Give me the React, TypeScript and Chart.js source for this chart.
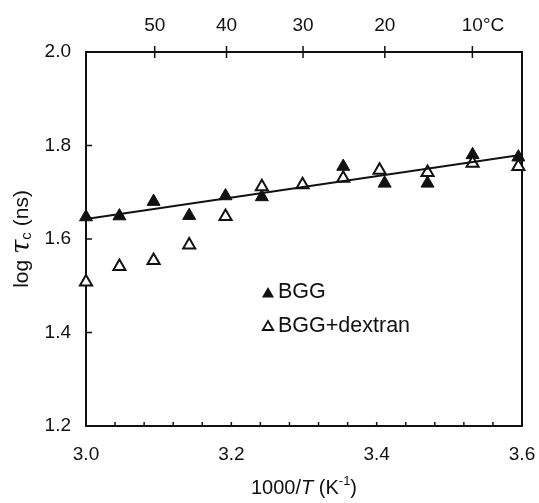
import React, { useEffect, useRef } from "react";
import { Chart, registerables } from "chart.js";

Chart.register(...registerables);

// ---- data ----
const bggX = [3.0, 3.046, 3.093, 3.142, 3.192, 3.242, 3.354, 3.411, 3.47, 3.532, 3.595];
const bggY = [1.647, 1.649, 1.68, 1.65, 1.692, 1.69, 1.755, 1.719, 1.719, 1.78, 1.775];
const dexX = [3.0, 3.046, 3.093, 3.142, 3.192, 3.242, 3.298, 3.354, 3.404, 3.47, 3.532, 3.595];
const dexY = [1.508, 1.541, 1.554, 1.587, 1.648, 1.712, 1.716, 1.73, 1.747, 1.742, 1.762, 1.755];
const fitX = [3.0, 3.6];
const fitY = [1.643, 1.78];

const xTicks = [3.0, 3.2, 3.4, 3.6];
const yTicks = [1.2, 1.4, 1.6, 1.8, 2.0];
const xMinorStep = 0.04;
const topTempsC = [50, 40, 30, 20, 10];
const topTempLabels = ["50", "40", "30", "20", "10"];
const topUnit = "°C";
const legendLabels = ["BGG", "BGG+dextran"];

const FONT = "'Liberation Sans', Arial, sans-serif";
const INK = "#111";

function tri(ctx: CanvasRenderingContext2D, x: number, y: number, r: number, filled: boolean, lw: number) {
  ctx.beginPath();
  ctx.moveTo(x, y - r);
  ctx.lineTo(x + r * 0.866, y + r * 0.5);
  ctx.lineTo(x - r * 0.866, y + r * 0.5);
  ctx.closePath();
  if (filled) {
    ctx.fillStyle = INK;
    ctx.fill();
  } else {
    ctx.fillStyle = "#fff";
    ctx.fill();
    ctx.lineWidth = lw;
    ctx.strokeStyle = INK;
    ctx.stroke();
  }
}

function drawSegments(
  ctx: CanvasRenderingContext2D,
  segs: { t: string; f: string; dy?: number }[],
  cx: number,
  cy: number
) {
  let total = 0;
  for (const s of segs) {
    ctx.font = s.f;
    total += ctx.measureText(s.t).width;
  }
  let x = cx - total / 2;
  ctx.textAlign = "left";
  ctx.textBaseline = "middle";
  for (const s of segs) {
    ctx.font = s.f;
    ctx.fillText(s.t, x, cy + (s.dy || 0));
    x += ctx.measureText(s.t).width;
  }
}

const framePlugin = {
  id: "frame",
  beforeDatasetsDraw(chart: any) {
    const { ctx, chartArea: a, scales } = chart;
    const xs = scales.x;
    const ys = scales.y;
    ctx.save();
    ctx.strokeStyle = INK;
    ctx.lineWidth = 2;
    ctx.strokeRect(a.left, a.top, a.right - a.left, a.bottom - a.top);

    ctx.lineWidth = 1.5;
    // y inward ticks
    for (const v of yTicks) {
      const py = ys.getPixelForValue(v);
      ctx.beginPath();
      ctx.moveTo(a.left, py);
      ctx.lineTo(a.left + 6, py);
      ctx.stroke();
    }
    // x minor inward ticks
    const n = Math.round((xs.max - xs.min) / xMinorStep);
    for (let i = 1; i < n; i++) {
      const px = xs.getPixelForValue(xs.min + i * xMinorStep);
      ctx.beginPath();
      ctx.moveTo(px, a.bottom);
      ctx.lineTo(px, a.bottom - 4);
      ctx.stroke();
    }
    // top temperature axis
    ctx.fillStyle = INK;
    ctx.font = `19px ${FONT}`;
    ctx.textBaseline = "middle";
    topTempsC.forEach((t, i) => {
      const px = xs.getPixelForValue(1000 / (t + 273.15));
      ctx.beginPath();
      ctx.moveTo(px, a.top - 6);
      ctx.lineTo(px, a.top + 6);
      ctx.stroke();
      ctx.textAlign = "center";
      const lab = topTempLabels[i];
      ctx.fillText(lab, px, a.top - 26);
      if (i === topTempsC.length - 1) {
        const w = ctx.measureText(lab).width;
        ctx.textAlign = "left";
        ctx.fillText(topUnit, px + w / 2, a.top - 26);
      }
    });
    ctx.restore();
  },
  afterDraw(chart: any) {
    const { ctx, chartArea: a } = chart;
    ctx.save();
    ctx.fillStyle = INK;
    // legend
    const lx = a.left + 182;
    const ly = a.top + 240;
    tri(ctx, lx, ly + 2, 7, true, 2);
    tri(ctx, lx, ly + 35, 6, false, 1.8);
    ctx.fillStyle = INK;
    ctx.font = `21.5px ${FONT}`;
    ctx.textAlign = "left";
    ctx.textBaseline = "middle";
    ctx.fillText(legendLabels[0], lx + 10, ly);
    ctx.fillText(legendLabels[1], lx + 10, ly + 34);

    // x title
    const cx = (a.left + a.right) / 2;
    drawSegments(
      ctx,
      [
        { t: "1000/", f: `20px ${FONT}` },
        { t: "T", f: `italic 20px ${FONT}` },
        { t: " (K", f: `20px ${FONT}` },
        { t: "-1", f: `13px ${FONT}`, dy: -7 },
        { t: ")", f: `20px ${FONT}` },
      ],
      cx,
      a.bottom + 62
    );
    // y title
    ctx.save();
    ctx.translate(22, (a.top + a.bottom) / 2);
    ctx.rotate(-Math.PI / 2);
    drawSegments(
      ctx,
      [
        { t: "log ", f: `21px ${FONT}` },
        { t: "τ", f: `italic 26px 'DejaVu Serif', serif` },
        { t: "c", f: `15px ${FONT}`, dy: 5 },
        { t: " (ns)", f: `21px ${FONT}` },
      ],
      0,
      0
    );
    ctx.restore();
    ctx.restore();
  },
};

export default function App() {
  const ref = useRef<HTMLCanvasElement | null>(null);
  useEffect(() => {
    document.body.style.margin = "0";
    const canvas = ref.current;
    if (!canvas) return;
    const pts = (xs: number[], ys: number[]) => xs.map((x, i) => ({ x, y: ys[i] }));
    const chart = new Chart(canvas, {
      type: "scatter",
      data: {
        datasets: [
          {
            label: "fit",
            data: pts(fitX, fitY),
            showLine: true,
            borderColor: INK,
            borderWidth: 2,
            pointRadius: 0,
            fill: false,
          } as any,
          {
            label: legendLabels[1],
            data: pts(dexX, dexY),
            pointStyle: "triangle",
            pointRadius: 7,
            pointBackgroundColor: "#fff",
            pointBorderColor: INK,
            pointBorderWidth: 2,
            clip: false,
          } as any,
          {
            label: legendLabels[0],
            data: pts(bggX, bggY),
            pointStyle: "triangle",
            pointRadius: 7.5,
            pointBackgroundColor: INK,
            pointBorderColor: INK,
            pointBorderWidth: 1,
            clip: false,
          } as any,
        ],
      },
      options: {
        animation: false,
        responsive: false,
        maintainAspectRatio: false,
        layout: { padding: { top: 52, right: 17, left: 0, bottom: 0 } },
        plugins: { legend: { display: false }, tooltip: { enabled: false } },
        scales: {
          x: {
            type: "linear",
            min: 3.0,
            max: 3.6,
            grid: { display: false, drawTicks: false },
            border: { display: false },
            afterFit: (s: any) => {
              s.height = 77;
              s.paddingLeft = 0;
              s.paddingRight = 0;
            },
            afterBuildTicks: (s: any) => {
              s.ticks = xTicks.map((v) => ({ value: v }));
            },
            ticks: {
              padding: 17,
              color: INK,
              font: { family: FONT, size: 19 },
              callback: (v: any) => Number(v).toFixed(1),
            },
          },
          y: {
            type: "linear",
            min: 1.2,
            max: 2.0,
            grid: { display: false, drawTicks: false },
            border: { display: false },
            afterFit: (s: any) => {
              s.width = 86;
              s.paddingTop = 0;
              s.paddingBottom = 0;
            },
            afterBuildTicks: (s: any) => {
              s.ticks = yTicks.map((v) => ({ value: v }));
            },
            ticks: {
              padding: 15,
              color: INK,
              font: { family: FONT, size: 19 },
              callback: (v: any) => Number(v).toFixed(1),
            },
          },
        },
      },
      plugins: [framePlugin],
    });
    return () => chart.destroy();
  }, []);
  return (
    <div style={{ width: 539, height: 503, background: "#fff" }}>
      <canvas ref={ref} width={539} height={503} style={{ display: "block" }} />
    </div>
  );
}
